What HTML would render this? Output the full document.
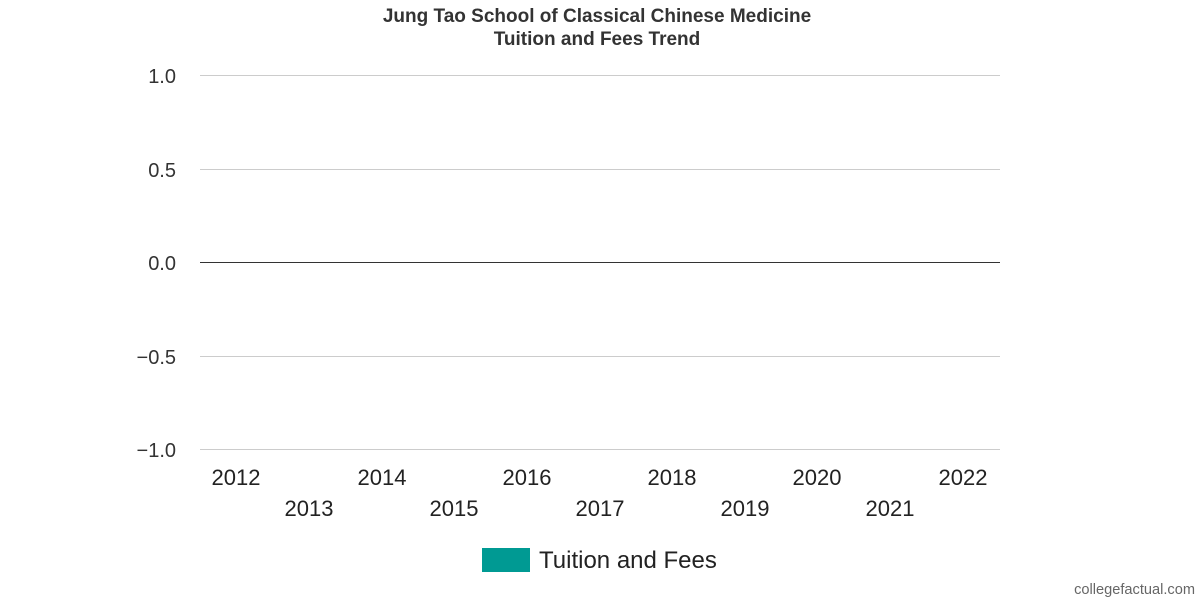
<!DOCTYPE html>
<html><head><style>
body{margin:0;background:#fff;width:1200px;height:600px;overflow:hidden;font-family:"Liberation Sans",Arial,sans-serif;}
</style></head><body>
<svg width="1200" height="600" xmlns="http://www.w3.org/2000/svg" font-family="Liberation Sans, Arial, sans-serif">
<text x="597" y="22" text-anchor="middle" font-size="19" font-weight="bold" fill="#333">Jung Tao School of Classical Chinese Medicine</text>
<text x="597" y="45" text-anchor="middle" font-size="19" font-weight="bold" fill="#333">Tuition and Fees Trend</text>
<g stroke="#ccc" stroke-width="1">
<line x1="200" y1="75.5" x2="1000" y2="75.5"/>
<line x1="200" y1="169.5" x2="1000" y2="169.5"/>
<line x1="200" y1="356.5" x2="1000" y2="356.5"/>
<line x1="200" y1="449.5" x2="1000" y2="449.5"/>
</g>
<line x1="200" y1="262.5" x2="1000" y2="262.5" stroke="#333"/>
<g font-size="20" fill="#333" text-anchor="end">
<text x="176" y="83">1.0</text>
<text x="176" y="177">0.5</text>
<text x="176" y="270">0.0</text>
<text x="176" y="364">−0.5</text>
<text x="176" y="457">−1.0</text>
</g>
<g font-size="22" fill="#222" text-anchor="middle">
<text x="236" y="485">2012</text>
<text x="309" y="516">2013</text>
<text x="382" y="485">2014</text>
<text x="454" y="516">2015</text>
<text x="527" y="485">2016</text>
<text x="600" y="516">2017</text>
<text x="672" y="485">2018</text>
<text x="745" y="516">2019</text>
<text x="817" y="485">2020</text>
<text x="890" y="516">2021</text>
<text x="963" y="485">2022</text>
</g>
<rect x="482" y="548" width="48" height="24" fill="#009a93"/>
<text x="539" y="568" font-size="24" fill="#222">Tuition and Fees</text>
<text x="1195" y="594" text-anchor="end" font-size="14.6" fill="#666">collegefactual.com</text>
</svg>
</body></html>
